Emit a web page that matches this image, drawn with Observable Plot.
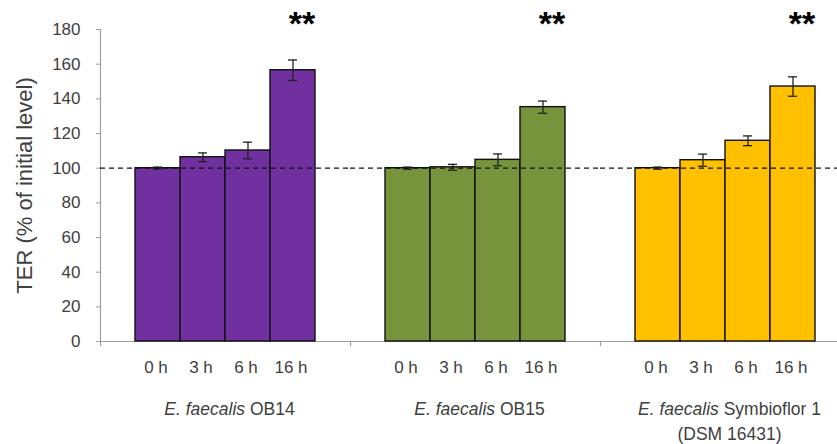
<!DOCTYPE html>
<html>
<head>
<meta charset="utf-8">
<script src="https://cdn.jsdelivr.net/npm/d3@7"></script>
<script src="https://cdn.jsdelivr.net/npm/@observablehq/plot@0.6"></script>
<style>
  html, body { margin: 0; padding: 0; background: #fff; overflow: hidden; }
  #chart svg { display: block; max-width: none; }
</style>
</head>
<body>
<div id="chart"></div>
<script>
// ---- data ----
const strains = ["E. faecalis OB14", "E. faecalis OB15", "E. faecalis Symbioflor 1\n(DSM 16431)"];
const times = ["0 h", "3 h", "6 h", "16 h"];
const ob14 = [100, 106.3, 110.2, 156.5];
const ob14Err = [0.6, 2.5, 4.8, 5.9];
const ob15 = [100, 100.5, 104.8, 135.2];
const ob15Err = [0.6, 1.7, 3.4, 3.5];
const symbioflor = [100, 104.6, 115.8, 147.1];
const symbioflorErr = [0.6, 3.5, 2.8, 5.6];
const strainColors = ["#7030A0", "#77933C", "#FFC000"];
const significance = ["**", "**", "**"];   // marks above the 16 h bars
const significantTime = "16 h";
const yTicks = [0, 20, 40, 60, 80, 100, 120, 140, 160, 180];
const referenceLevel = 100;
const yTitle = "TER (% of initial level)";

// ---- table built from the arrays ----
const seriesValues = [ob14, ob15, symbioflor];
const seriesErrors = [ob14Err, ob15Err, symbioflorErr];
const rows = [];
strains.forEach((s, i) => times.forEach((t, j) => rows.push({
  strain: s, time: t, value: seriesValues[i][j], err: seriesErrors[i][j]
})));
const starRows = strains.map((s, i) => ({strain: s, time: significantTime, mark: significance[i]}));
const strainRows = strains.map(s => ({strain: s, label: s}));

const font = "'Liberation Sans', Arial, sans-serif";
const gray = "#a0a0a0";
const textColor = "#404040";

const chart = Plot.plot({
  width: 837,
  height: 444,
  marginLeft: 100,
  marginRight: 0,
  marginTop: 29,
  marginBottom: 103,
  style: {fontFamily: font, fontSize: "17px", background: "#fff", color: textColor},
  fx: {domain: strains, range: [100, 850], padding: 0, axis: null, label: null},
  x: {domain: times, paddingInner: 0, paddingOuter: 0.75, label: null},
  y: {domain: [0, 180], label: null},
  color: {domain: strains, range: strainColors},
  marks: [
    Plot.ruleY([0], {stroke: gray, strokeWidth: 1.2}),
    Plot.frame({anchor: "left", stroke: gray, strokeWidth: 1.2, insetTop: 312, insetBottom: -4}),
    Plot.frame({anchor: "left", fx: () => strains[0], stroke: gray, strokeWidth: 1.2}),
    Plot.barY(rows, {fx: "strain", x: "time", y: "value", fill: "strain", stroke: "#111", strokeWidth: 1.4}),
    Plot.ruleX(rows, {fx: "strain", x: "time", y1: d => d.value - d.err, y2: d => d.value + d.err, stroke: "#222", strokeWidth: 1.3}),
    Plot.tickY(rows, {fx: "strain", x: "time", y: d => d.value + d.err, stroke: "#222", strokeWidth: 1.3, insetLeft: 18, insetRight: 18}),
    Plot.tickY(rows, {fx: "strain", x: "time", y: d => d.value - d.err, stroke: "#222", strokeWidth: 1.3, insetLeft: 18, insetRight: 18}),
    Plot.ruleY([referenceLevel], {stroke: "#111", strokeWidth: 1.3, strokeDasharray: "5,4"}),
    Plot.axisY({ticks: yTicks, tickSize: 4, tickPadding: 16, stroke: gray, fill: textColor, fontSize: 17, label: null}),
    Plot.axisX({tickSize: 0, tickPadding: 19, fill: textColor, fontSize: 17, dx: -2, label: null}),
    Plot.text(starRows, {fx: "strain", x: "time", text: "mark", frameAnchor: "top", dy: -19, dx: 9,
      fontSize: 34, fontWeight: "bold", fill: "#000", fontFamily: font}),
    Plot.text(strainRows, {fx: "strain", text: "label", frameAnchor: "bottom", lineAnchor: "top", dy: 56, dx: 4,
      fontSize: 17.5, lineHeight: 1.42, fill: textColor}),
    Plot.text([yTitle], {fx: () => strains[0], text: d => d, frameAnchor: "left", textAnchor: "middle",
      dx: -76, rotate: -90, fontSize: 22, fill: textColor})
  ]
});
document.getElementById("chart").appendChild(chart);

// italicise the genus/species part of the strain labels
const italicPart = "E. faecalis";
function italicise(el) {
  const s = el.textContent;
  if (!s.startsWith(italicPart)) return;
  el.textContent = "";
  const it = document.createElementNS("http://www.w3.org/2000/svg", "tspan");
  it.setAttribute("font-style", "italic");
  it.style.fontStyle = "italic";
  it.textContent = italicPart;
  el.appendChild(it);
  el.appendChild(document.createTextNode(s.slice(italicPart.length)));
}
chart.querySelectorAll("text").forEach(t => {
  const spans = Array.from(t.children).filter(c => c.tagName.toLowerCase() === "tspan");
  if (spans.length) spans.forEach(italicise);
  else if (t.textContent.startsWith(italicPart)) italicise(t);
});
</script>
</body>
</html>
